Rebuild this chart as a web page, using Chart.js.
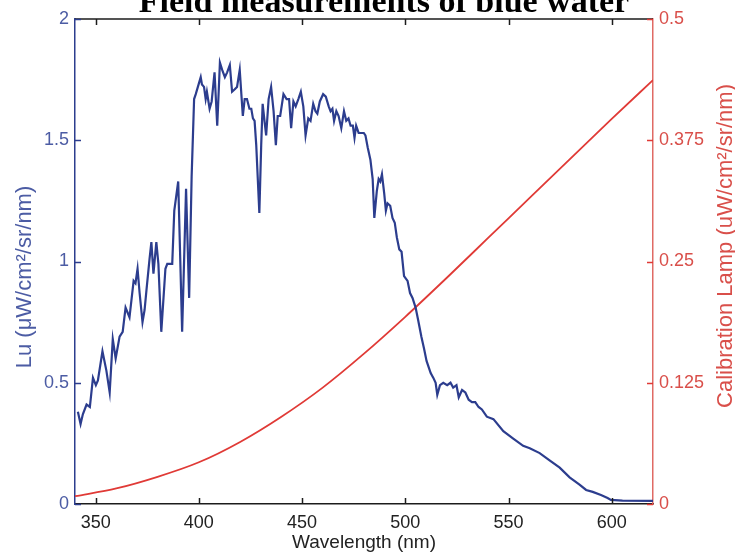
<!DOCTYPE html>
<html>
<head>
<meta charset="utf-8">
<script src="https://cdn.jsdelivr.net/npm/chart.js@4.4.1/dist/chart.umd.min.js"></script>
<style>
  body { margin: 0; background: #fff; }
  canvas { display: block; }
</style>
</head>
<body>
<canvas id="spectrum" width="735" height="552"></canvas>
<script>
// upwelling radiance, blue water station
const luWavelength = [
  341.4, 342.7, 343.8, 345.6, 347.2, 348.7, 350.1, 351.1, 353.3, 355.2,
  356.8, 358.3, 359.7, 361.6, 363.1, 364.5, 366.4, 368.4, 369.3, 370.3,
  371.3, 372.7, 373.7, 374.6, 376.1, 377.0, 378.0, 379.4, 380.4, 381.8,
  383.8, 384.7, 387.1, 388.1, 390.0, 391.9, 393.8, 395.3, 396.5, 397.7,
  398.5, 400.9, 401.5, 402.5, 403.3, 403.9, 405.2, 406.2, 407.6, 408.9,
  410.2, 411.3, 412.6, 413.7, 415.0, 416.1, 417.4, 418.5, 419.8, 421.3,
  422.2, 423.3, 424.5, 425.4, 426.2, 427.0, 427.8, 429.3, 430.2, 430.9,
  431.8, 432.6, 433.8, 435.0, 436.2, 437.3, 438.2, 439.4, 441.0, 442.5,
  443.7, 444.7, 445.8, 446.9, 448.2, 449.4, 450.6, 451.7, 453.0, 454.1,
  455.4, 456.5, 457.4, 458.6, 460.2, 461.5, 462.9, 463.8, 464.7, 465.5,
  466.6, 467.7, 469.0, 470.3, 471.4, 472.5, 473.5, 474.6, 475.4, 476.2,
  477.4, 478.6, 479.9, 480.7, 481.8, 483.1, 484.2, 485.0, 486.2, 487.1,
  487.9, 488.7, 489.8, 490.6, 491.4, 492.7, 493.8, 494.9, 495.9, 497.1,
  498.2, 499.4, 501.1, 502.3, 503.5, 505.0, 506.2, 507.8, 509.1, 510.3,
  512.3, 513.6, 514.7, 515.5, 516.8, 518.4, 520.3, 521.9, 523.2, 524.8,
  525.9, 527.5, 529.1, 530.7, 532.3, 533.9, 535.5, 537.1, 539.5, 542.7,
  547.5, 552.3, 557.1, 560.3, 565.1, 569.9, 574.8, 579.6, 584.4, 587.6,
  590.8, 594.8, 598.0, 599.6, 605.2, 620.0
];
const luRadiance = [
  0.38, 0.33, 0.37, 0.41, 0.40, 0.52, 0.49, 0.51, 0.63, 0.55,
  0.46, 0.68, 0.60, 0.69, 0.71, 0.81, 0.77, 0.92, 0.91, 0.97,
  0.87, 0.75, 0.80, 0.88, 1.01, 1.08, 0.95, 1.08, 0.99, 0.71,
  0.97, 0.99, 0.99, 1.21, 1.33, 0.71, 1.30, 0.85, 1.35, 1.67,
  1.69, 1.76, 1.73, 1.72, 1.67, 1.70, 1.63, 1.66, 1.78, 1.56,
  1.82, 1.79, 1.76, 1.78, 1.81, 1.70, 1.71, 1.72, 1.79, 1.60,
  1.67, 1.67, 1.63, 1.63, 1.59, 1.58, 1.48, 1.20, 1.48, 1.65,
  1.58, 1.52, 1.67, 1.72, 1.62, 1.48, 1.60, 1.60, 1.69, 1.67,
  1.67, 1.55, 1.66, 1.64, 1.67, 1.70, 1.64, 1.52, 1.59, 1.58,
  1.65, 1.62, 1.61, 1.66, 1.69, 1.68, 1.64, 1.62, 1.63, 1.58,
  1.62, 1.60, 1.55, 1.62, 1.58, 1.59, 1.56, 1.56, 1.51, 1.56,
  1.53, 1.53, 1.53, 1.52, 1.47, 1.42, 1.34, 1.18, 1.29, 1.34,
  1.33, 1.36, 1.28, 1.21, 1.24, 1.23, 1.18, 1.16, 1.10, 1.05,
  1.04, 0.94, 0.92, 0.87, 0.85, 0.81, 0.76, 0.69, 0.64, 0.59,
  0.54, 0.52, 0.50, 0.45, 0.49, 0.50, 0.49, 0.50, 0.48, 0.49,
  0.44, 0.47, 0.46, 0.43, 0.42, 0.42, 0.40, 0.39, 0.36, 0.35,
  0.30, 0.27, 0.24, 0.23, 0.21, 0.18, 0.15, 0.11, 0.08, 0.058,
  0.05, 0.037, 0.025, 0.017, 0.014, 0.013
];

// calibration lamp output
const lampWavelength = [340, 360, 380, 400, 420, 440, 460, 480, 500, 520, 540, 560, 580, 600, 620];
const lampRadiance = [0.008, 0.016, 0.028, 0.043, 0.064, 0.090, 0.120, 0.155, 0.193, 0.233, 0.274, 0.315, 0.356, 0.397, 0.437];

const xTicks = [350, 400, 450, 500, 550, 600];
const luTicks = [0, 0.5, 1, 1.5, 2];
const lampTicks = [0, 0.125, 0.25, 0.375, 0.5];

const titleText = "Field measurements of blue water";
const luLabel = "Lu (μW/cm²/sr/nm)";
const lampLabel = "Calibration Lamp (uW/cm²/sr/nm)";
const blue = "#2c3d8e";
const red = "#e03a36";
const blueText = "#4c5ca4";
const redText = "#d94f4a";
const sans = "'Liberation Sans', Arial, sans-serif";

function toPoints(xs, ys) {
  return xs.map((x, i) => ({ x: x, y: ys[i] }));
}

function fixedTicks(values) {
  return function (scale) {
    scale.ticks = values.map(v => ({ value: v }));
  };
}

function verticalText(ctx, text, x, y, color) {
  ctx.save();
  ctx.translate(x, y);
  ctx.rotate(-Math.PI / 2);
  ctx.fillStyle = color;
  ctx.font = "22px " + sans;
  ctx.textAlign = "center";
  ctx.textBaseline = "middle";
  ctx.fillText(text, 0, 0);
  ctx.restore();
}

// MATLAB-like frame: top border, inward tick marks, clipped title, y labels
const framePlugin = {
  id: "frame",
  afterDraw: function (chart) {
    const ctx = chart.ctx;
    const a = chart.chartArea;
    const sx = chart.scales.x;
    const sl = chart.scales.yLu;
    const sr = chart.scales.yLamp;
    const len = 6;

    ctx.save();
    ctx.lineWidth = 1.5;
    ctx.strokeStyle = "#1c1c1c";
    ctx.beginPath();
    ctx.moveTo(a.left, a.top);
    ctx.lineTo(a.right, a.top);
    sx.ticks.forEach(t => {
      const px = Math.round(sx.getPixelForValue(t.value)) + 0.5;
      ctx.moveTo(px, a.bottom);
      ctx.lineTo(px, a.bottom - len);
      ctx.moveTo(px, a.top);
      ctx.lineTo(px, a.top + len);
    });
    ctx.stroke();

    ctx.strokeStyle = blue;
    ctx.beginPath();
    sl.ticks.forEach(t => {
      const py = Math.round(sl.getPixelForValue(t.value)) + 0.5;
      ctx.moveTo(a.left, py);
      ctx.lineTo(a.left + len, py);
    });
    ctx.stroke();

    ctx.strokeStyle = red;
    ctx.beginPath();
    sr.ticks.forEach(t => {
      const py = Math.round(sr.getPixelForValue(t.value)) + 0.5;
      ctx.moveTo(a.right, py);
      ctx.lineTo(a.right - len, py);
    });
    ctx.stroke();

    ctx.fillStyle = "#000";
    ctx.font = "bold 34px 'Liberation Serif', 'Times New Roman', serif";
    ctx.textAlign = "center";
    ctx.textBaseline = "alphabetic";
    ctx.fillText(titleText, 384, 12);
    ctx.restore();

    verticalText(ctx, luLabel, 25, 277, blueText);
    verticalText(ctx, lampLabel, 726, 246, redText);
  }
};

new Chart(document.getElementById("spectrum"), {
  type: "line",
  data: {
    datasets: [
      {
        label: "Lu",
        data: toPoints(luWavelength, luRadiance),
        yAxisID: "yLu",
        borderColor: blue,
        borderWidth: 2.2,
        pointRadius: 0,
        tension: 0
      },
      {
        label: "Calibration Lamp",
        data: toPoints(lampWavelength, lampRadiance),
        yAxisID: "yLamp",
        borderColor: red,
        borderWidth: 1.8,
        pointRadius: 0,
        cubicInterpolationMode: "monotone"
      }
    ]
  },
  options: {
    responsive: false,
    animation: false,
    devicePixelRatio: 1,
    layout: { padding: { top: 19, left: 0, right: 0, bottom: 0 } },
    plugins: {
      legend: { display: false },
      tooltip: { enabled: false }
    },
    scales: {
      x: {
        type: "linear",
        min: 340,
        max: 620,
        afterBuildTicks: fixedTicks(xTicks),
        afterFit: s => { s.height = 48; },
        grid: { display: false, drawTicks: false },
        border: { color: "#1c1c1c", width: 1.5 },
        ticks: { color: "#222", padding: 8, font: { family: sans, size: 18 }, maxRotation: 0 },
        title: {
          display: true,
          text: "Wavelength (nm)",
          color: "#222",
          padding: { top: 0, bottom: 0 },
          font: { family: sans, size: 19, lineHeight: 1 }
        }
      },
      yLu: {
        type: "linear",
        position: "left",
        min: 0,
        max: 2,
        afterBuildTicks: fixedTicks(luTicks),
        afterFit: s => { s.width = 75; },
        grid: { display: false, drawTicks: false },
        border: { color: blue, width: 1.5 },
        ticks: { color: blueText, padding: 6, font: { family: sans, size: 18 }, callback: v => String(v) }
      },
      yLamp: {
        type: "linear",
        position: "right",
        min: 0,
        max: 0.5,
        afterBuildTicks: fixedTicks(lampTicks),
        afterFit: s => { s.width = 82; },
        grid: { display: false, drawTicks: false },
        border: { color: "#e06a64", width: 1.5 },
        ticks: { color: redText, padding: 6, font: { family: sans, size: 18 }, callback: v => String(v) }
      }
    }
  },
  plugins: [framePlugin]
});
</script>
</body>
</html>
